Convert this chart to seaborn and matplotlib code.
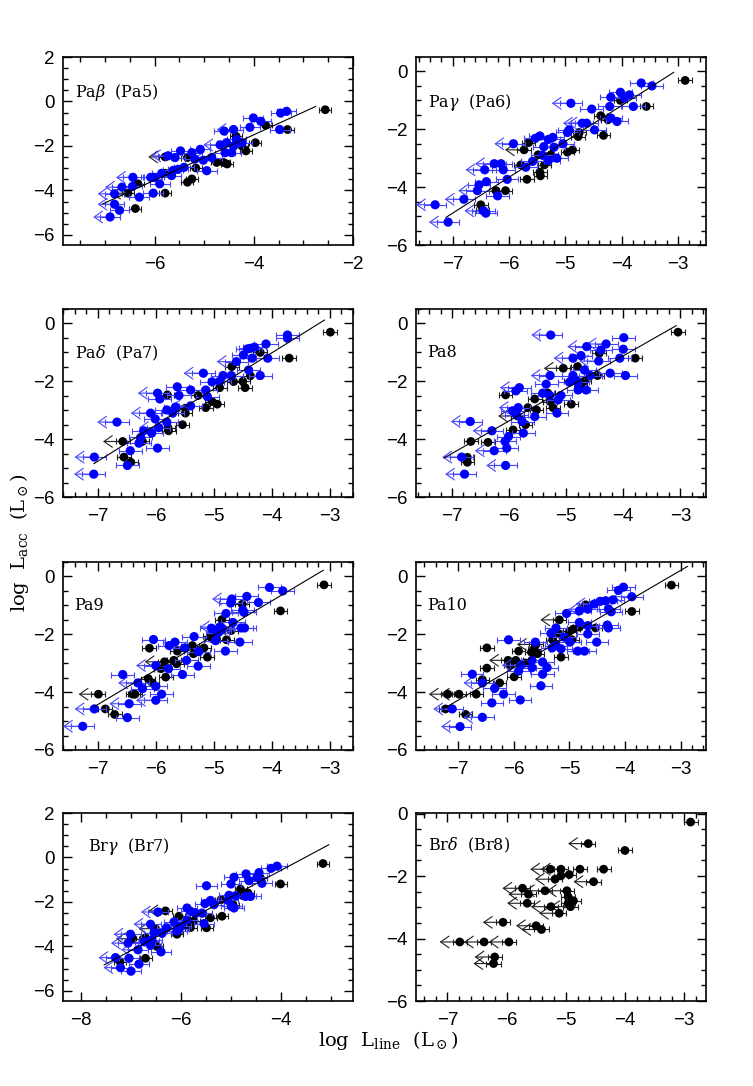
import pandas as pd
import matplotlib
matplotlib.use('Agg')
import matplotlib.pyplot as plt
from matplotlib.ticker import MultipleLocator
import seaborn as sns

# --- data: (log L_line, log L_acc) pairs ---
# det = detection with error bar, lim = upper limit on L_line
# _k = black sample, _b = blue sample

pab_det_k = [(-2.56, -0.37), (-3.32, -1.26), (-3.76, -1.07), (-3.97, -1.85), (-4.16, -2.22), (-4.36, -1.56),
             (-4.54, -2.81), (-4.61, -2.74), (-4.75, -2.74), (-5.17, -2.99), (-5.25, -3.48), (-5.34, -3.63),
             (-5.34, -2.52), (-5.79, -4.12), (-6.39, -4.81), (-6.34, -3.70), (-4.24, -2.00), (-5.78, -3.23)]
pab_lim_k = [(-6.54, -4.12), (-5.79, -2.49)]
pab_det_b = [(-3.34, -0.44), (-3.46, -0.52), (-3.48, -1.26), (-4.01, -0.74), (-3.86, -0.89), (-4.08, -1.16),
             (-4.60, -1.33), (-4.55, -1.85), (-4.41, -2.00), (-4.24, -1.85), (-4.35, -1.70), (-4.58, -2.30),
             (-4.45, -2.30), (-5.08, -2.15), (-5.48, -2.22), (-5.25, -2.30), (-5.19, -2.59), (-5.02, -2.64),
             (-5.59, -2.52), (-5.41, -2.96), (-5.53, -3.05), (-5.63, -3.10), (-5.66, -3.33), (-4.95, -3.11),
             (-5.86, -3.23), (-6.01, -3.41), (-6.08, -3.41), (-6.45, -3.82), (-6.03, -4.12), (-6.31, -4.30),
             (-6.71, -4.89), (-5.90, -3.70)]
pab_lim_b = [(-4.41, -1.26), (-4.85, -2.52), (-5.73, -2.44), (-6.44, -3.41), (-6.66, -3.85), (-6.81, -4.15),
             (-6.81, -4.62), (-6.90, -5.19), (-4.68, -1.95)]

pag_det_k = [(-2.87, -0.31), (-3.56, -1.21), (-4.02, -1.00), (-4.24, -1.67), (-4.32, -2.21), (-4.37, -1.53),
             (-4.75, -2.11), (-4.77, -2.25), (-4.87, -2.71), (-4.96, -2.79), (-5.25, -2.88), (-5.37, -3.23),
             (-5.45, -3.48), (-5.44, -3.61), (-5.68, -3.73), (-5.48, -2.88), (-5.65, -2.46), (-5.79, -3.23),
             (-6.06, -4.12), (-6.23, -4.12), (-6.50, -4.61), (-6.47, -4.79)]
pag_lim_k = [(-5.73, -2.71)]
pag_det_b = [(-3.65, -0.40), (-3.46, -0.50), (-4.02, -0.72), (-3.86, -0.81), (-4.19, -0.89), (-3.95, -0.92),
             (-4.53, -1.30), (-4.21, -1.21), (-3.79, -1.21), (-4.19, -1.61), (-4.08, -1.73), (-4.93, -2.02),
             (-4.96, -2.11), (-4.48, -2.02), (-5.53, -2.31), (-5.45, -2.23), (-5.30, -2.35), (-5.22, -2.28),
             (-5.38, -2.60), (-5.20, -2.62), (-5.04, -2.50), (-5.40, -2.90), (-5.30, -3.08), (-5.15, -3.00),
             (-5.58, -3.11), (-5.70, -3.31), (-6.14, -3.19), (-6.10, -3.40), (-6.03, -3.73), (-6.40, -3.81),
             (-6.53, -3.92), (-6.20, -4.30), (-6.41, -4.90)]
pag_lim_b = [(-4.90, -1.10), (-4.70, -1.79), (-4.62, -1.79), (-5.92, -2.50), (-6.26, -3.19), (-6.43, -3.40),
             (-6.56, -4.12), (-6.80, -4.42), (-7.31, -4.61), (-7.08, -5.21), (-6.45, -4.82)]

pad_det_k = [(-2.99, -0.30), (-3.70, -1.20), (-4.20, -1.00), (-4.69, -1.49), (-4.50, -2.00), (-4.46, -2.22),
             (-4.66, -2.01), (-4.37, -1.81), (-4.90, -2.22), (-4.94, -2.79), (-5.14, -2.91), (-5.03, -2.70),
             (-5.27, -2.49), (-5.49, -2.93), (-5.49, -3.10), (-5.54, -3.50), (-5.79, -3.60), (-5.78, -3.71),
             (-5.80, -2.47), (-6.23, -4.08), (-6.55, -4.62), (-6.43, -4.80)]
pad_lim_k = [(-6.57, -4.08)]
pad_det_b = [(-3.73, -0.40), (-3.73, -0.51), (-4.10, -0.71), (-4.30, -0.82), (-4.42, -0.88), (-4.37, -0.86),
             (-4.34, -1.20), (-4.07, -1.20), (-4.49, -1.09), (-4.40, -1.61), (-4.84, -1.80), (-4.70, -1.80),
             (-4.20, -1.80), (-4.90, -2.00), (-5.03, -2.02), (-5.14, -2.30), (-5.63, -2.19), (-5.40, -2.30),
             (-5.60, -2.49), (-5.11, -2.53), (-5.93, -2.61), (-5.66, -2.89), (-5.81, -2.99), (-5.71, -3.10),
             (-6.01, -3.30), (-5.81, -3.41), (-6.21, -3.71), (-6.07, -3.79), (-6.26, -3.94), (-6.29, -4.14),
             (-5.97, -4.31), (-6.44, -4.40), (-6.49, -4.91)]
pad_lim_b = [(-4.61, -1.32), (-5.18, -1.72), (-5.97, -2.41), (-6.09, -3.10), (-6.67, -3.41), (-7.06, -4.62),
             (-7.07, -5.21), (-5.40, -2.85), (-5.95, -3.60)]

pa8_det_k = [(-3.04, -0.30), (-3.79, -1.20), (-4.42, -1.03), (-4.45, -1.80), (-4.80, -1.49), (-4.68, -1.99),
             (-4.80, -2.00), (-4.92, -2.00), (-4.75, -2.15), (-4.91, -2.79), (-5.23, -2.91), (-5.28, -2.70),
             (-5.32, -2.41), (-5.52, -2.99), (-5.55, -2.61), (-5.67, -2.91), (-5.71, -3.50), (-5.93, -3.68),
             (-6.06, -2.47), (-6.37, -4.11), (-6.67, -4.08), (-6.73, -4.63), (-6.73, -4.80)]
pa8_lim_k = [(-5.05, -1.55), (-5.85, -3.20)]
pa8_det_b = [(-3.99, -0.49), (-4.00, -0.89), (-4.39, -0.92), (-4.74, -1.11), (-4.06, -1.20), (-4.68, -1.61),
             (-4.58, -1.80), (-4.23, -1.72), (-3.96, -1.80), (-4.88, -1.80), (-4.94, -2.03), (-4.80, -2.03),
             (-4.65, -2.30), (-4.79, -2.30), (-5.35, -2.10), (-5.88, -2.33), (-5.41, -2.41), (-5.09, -2.49),
             (-5.29, -2.49), (-5.14, -2.64), (-5.94, -3.02), (-5.87, -3.16), (-5.16, -3.10), (-5.55, -3.22),
             (-5.77, -3.39), (-5.75, -3.79), (-6.01, -3.91), (-6.07, -4.08), (-6.04, -4.31)]
pa8_lim_b = [(-5.27, -0.40), (-4.30, -0.71), (-4.64, -0.80), (-4.88, -1.20), (-4.43, -1.30), (-5.28, -1.80),
             (-5.82, -2.22), (-5.84, -2.91), (-6.68, -3.39), (-6.30, -3.71), (-6.26, -4.40), (-6.83, -4.62),
             (-6.06, -4.91), (-6.78, -5.21)]

pa9_det_k = [(-3.10, -0.29), (-3.85, -1.19), (-4.51, -0.96), (-4.86, -1.49), (-4.78, -2.19), (-4.70, -1.87),
             (-4.93, -1.93), (-5.06, -2.05), (-5.03, -2.15), (-5.17, -2.47), (-5.11, -2.79), (-5.37, -2.39),
             (-5.35, -2.67), (-5.63, -2.58), (-5.69, -2.90), (-5.64, -3.02), (-5.91, -3.19), (-5.83, -3.48),
             (-6.13, -3.53), (-6.06, -3.68), (-6.11, -2.48), (-6.40, -4.07), (-6.36, -4.07), (-6.87, -4.58),
             (-6.71, -4.77)]
pa9_lim_k = [(-6.99, -4.07), (-5.85, -2.95)]
pa9_det_b = [(-4.04, -0.38), (-3.81, -0.50), (-4.43, -0.69), (-4.23, -0.90), (-4.50, -1.16), (-4.48, -1.24),
             (-4.71, -0.92), (-4.79, -1.28), (-4.67, -1.59), (-4.85, -1.80), (-4.90, -1.90), (-4.94, -1.97),
             (-4.53, -1.78), (-4.47, -1.78), (-5.04, -1.79), (-4.55, -2.27), (-4.97, -2.22), (-4.80, -2.58),
             (-5.34, -2.08), (-5.67, -2.27), (-6.04, -2.18), (-5.77, -2.39), (-5.50, -2.47), (-5.26, -2.60),
             (-5.47, -2.90), (-5.27, -3.10), (-5.78, -3.19), (-5.54, -3.39), (-6.57, -3.39), (-6.00, -3.80),
             (-6.23, -3.88), (-5.90, -4.07), (-6.49, -4.88)]
pa9_lim_b = [(-4.69, -0.78), (-6.00, -3.08), (-6.31, -3.68), (-6.00, -4.28), (-6.46, -4.40), (-7.06, -4.58),
             (-7.26, -5.18), (-4.90, -1.75)]

pa10_det_k = [(-3.17, -0.30), (-3.88, -1.21), (-4.71, -0.98), (-4.53, -1.78), (-4.93, -1.82), (-4.95, -2.19),
              (-5.00, -1.90), (-5.18, -1.99), (-5.30, -2.19), (-5.15, -2.79), (-5.63, -2.50), (-5.57, -2.67),
              (-5.68, -2.62), (-5.91, -2.58), (-5.96, -2.90), (-5.79, -2.99), (-6.06, -3.07), (-5.99, -3.47),
              (-6.25, -3.68), (-6.48, -2.47), (-6.48, -3.17), (-6.56, -3.57), (-6.67, -4.07), (-7.22, -4.58),
              (-6.86, -4.77), (-4.82, -1.75)]
pa10_lim_k = [(-5.18, -1.50), (-7.18, -4.07), (-6.98, -4.07), (-6.10, -2.90), (-5.60, -2.35)]
pa10_det_b = [(-4.03, -0.37), (-4.12, -0.48), (-4.22, -0.81), (-4.45, -0.86), (-4.35, -0.84), (-4.82, -1.19),
              (-4.30, -1.12), (-4.25, -1.22), (-5.05, -1.28), (-4.82, -1.59), (-4.67, -1.70), (-4.32, -1.68),
              (-4.30, -1.78), (-4.67, -1.99), (-5.24, -1.78), (-5.33, -1.97), (-5.09, -2.10), (-4.99, -2.27),
              (-5.24, -2.39), (-5.15, -2.50), (-5.31, -2.47), (-4.85, -2.58), (-4.73, -2.58), (-4.51, -2.27),
              (-6.09, -2.19), (-5.61, -2.27), (-5.67, -2.90), (-5.48, -2.96), (-5.40, -3.15), (-5.67, -3.15),
              (-5.91, -3.27), (-5.48, -3.38), (-6.74, -3.38), (-6.34, -3.87), (-6.18, -4.07), (-5.51, -3.78),
              (-5.88, -4.27), (-6.39, -4.37)]
pa10_lim_b = [(-3.88, -0.70), (-4.67, -1.13), (-5.87, -3.07), (-6.56, -3.68), (-7.10, -4.58), (-6.56, -4.87),
              (-6.96, -5.19), (-4.55, -0.95)]

brg_det_k = [(-3.15, -0.27), (-4.00, -1.19), (-4.40, -0.93), (-4.80, -1.42), (-4.65, -1.60), (-4.75, -1.72),
             (-4.95, -2.12), (-5.19, -1.90), (-5.17, -2.64), (-5.40, -2.71), (-5.48, -3.16), (-5.70, -2.52),
             (-5.73, -2.86), (-6.03, -2.64), (-6.07, -3.45), (-5.97, -3.08), (-6.47, -4.00), (-6.70, -3.60),
             (-6.70, -4.53), (-7.21, -4.68)]
brg_lim_k = [(-6.30, -2.40), (-6.50, -3.20), (-6.95, -3.65), (-5.80, -3.15)]
brg_det_b = [(-4.07, -0.39), (-4.19, -0.49), (-4.43, -0.68), (-4.37, -1.16), (-4.69, -0.74), (-4.63, -1.04),
             (-4.47, -0.89), (-4.99, -1.19), (-4.93, -0.89), (-5.48, -1.27), (-5.03, -1.70), (-4.90, -1.72),
             (-4.70, -1.75), (-4.60, -1.75), (-4.98, -2.20), (-4.93, -2.27), (-5.05, -1.93), (-5.33, -2.12),
             (-5.51, -2.07), (-5.40, -1.93), (-5.87, -2.27), (-5.80, -2.42), (-5.70, -2.50), (-5.57, -2.50),
             (-5.87, -2.82), (-6.00, -3.08), (-6.03, -3.22), (-6.07, -3.30), (-6.13, -2.90), (-5.53, -2.97),
             (-6.28, -3.16), (-6.37, -3.41), (-6.53, -3.38), (-6.63, -3.76), (-6.60, -3.95), (-6.57, -3.70),
             (-6.39, -4.24), (-6.72, -3.79), (-7.03, -4.53), (-6.83, -4.79), (-6.99, -5.11)]
brg_lim_b = [(-6.45, -2.45), (-6.60, -3.00), (-7.00, -3.45), (-7.05, -3.85), (-7.30, -4.50), (-7.20, -4.95),
             (-6.85, -4.15)]

brd_det_k = [(-2.89, -0.27), (-4.00, -1.18), (-4.36, -1.78), (-4.76, -1.78), (-5.08, -1.99), (-4.94, -1.95),
             (-4.96, -2.66), (-4.87, -2.79), (-4.96, -2.87)]
brd_lim_k = [(-4.62, -0.96), (-5.08, -1.78), (-5.26, -1.78), (-5.18, -2.10), (-4.53, -2.18), (-5.73, -2.39),
             (-5.63, -2.58), (-5.35, -2.47), (-4.98, -2.47), (-5.65, -2.87), (-5.25, -2.98), (-4.92, -2.98),
             (-5.11, -3.19), (-6.06, -3.48), (-5.50, -3.59), (-5.41, -3.71), (-6.79, -4.11), (-6.38, -4.11),
             (-5.96, -4.11), (-6.20, -4.59), (-6.22, -4.80)]
brd_det_b = []
brd_lim_b = []

# panel names and labels
lines = ['pab', 'pag', 'pad', 'pa8', 'pa9', 'pa10', 'brg', 'brd']
labels = [r'Pa$\beta$  (Pa5)', r'Pa$\gamma$  (Pa6)', r'Pa$\delta$  (Pa7)', 'Pa8',
          'Pa9', 'Pa10', r'Br$\gamma$  (Br7)', r'Br$\delta$  (Br8)']
# linear fits log Lacc = a * log Lline + b drawn between x0 and x1
fit_a = [1.02, 1.24, 1.249, 1.125, 1.194, 1.125, 1.202, None]
fit_b = [2.585, 3.78, 3.98, 3.38, 3.93, 3.59, 4.22, None]
fit_x0 = [-7.05, -7.12, -7.07, -7.14, -7.07, -7.27, -7.53, None]
fit_x1 = [-2.75, -3.07, -3.09, -3.07, -3.11, -2.88, -3.03, None]

groups = {
    'pab': (pab_det_k, pab_lim_k, pab_det_b, pab_lim_b),
    'pag': (pag_det_k, pag_lim_k, pag_det_b, pag_lim_b),
    'pad': (pad_det_k, pad_lim_k, pad_det_b, pad_lim_b),
    'pa8': (pa8_det_k, pa8_lim_k, pa8_det_b, pa8_lim_b),
    'pa9': (pa9_det_k, pa9_lim_k, pa9_det_b, pa9_lim_b),
    'pa10': (pa10_det_k, pa10_lim_k, pa10_det_b, pa10_lim_b),
    'brg': (brg_det_k, brg_lim_k, brg_det_b, brg_lim_b),
    'brd': (brd_det_k, brd_lim_k, brd_det_b, brd_lim_b),
}

rows = []
for name, (dk, lk, db, lb) in groups.items():
    for pts, col, lim in [(dk, 'k', 0), (lk, 'k', 1), (db, 'b', 0), (lb, 'b', 1)]:
        for x, y in pts:
            rows.append({'line': name, 'x': x, 'y': y, 'sample': col, 'lim': lim})
df = pd.DataFrame(rows)

# --- figure layout ---
sns.set_style('ticks')
plt.rcParams['font.family'] = ['Liberation Sans', 'DejaVu Sans']
plt.rcParams['mathtext.fontset'] = 'dejavuserif'
plt.rcParams.update({'axes.edgecolor': 'black', 'xtick.color': 'black', 'ytick.color': 'black',
                     'text.color': 'black', 'axes.labelcolor': 'black'})

fig = plt.figure(figsize=(7.53, 10.86), dpi=100)
W, H = 290 / 753, 188 / 1086
lefts = [63 / 753, 416 / 753]
bottoms = [1 - 245 / 1086, 1 - 497 / 1086, 1 - 750 / 1086, 1 - 1001 / 1086]

xlims = [(-7.85, -2.0), (-7.65, -2.5), (-7.6, -2.6), (-7.63, -2.55),
         (-7.6, -2.6), (-7.75, -2.55), (-8.35, -2.55), (-7.53, -2.63)]
ylims = [(-6.45, 2.0), (-6.0, 0.5), (-6.0, 0.5), (-6.0, 0.5),
         (-6.0, 0.5), (-6.0, 0.5), (-6.45, 2.0), (-6.0, 0.02)]
xmajor = [2, 1, 1, 1, 1, 1, 2, 1]
xminor = [0.5, 0.2, 0.2, 0.2, 0.2, 0.2, 0.5, 0.2]
label_xy = [(0.04, 0.81), (0.04, 0.76), (0.04, 0.766), (0.04, 0.766),
            (0.04, 0.77), (0.04, 0.77), (0.086, 0.82), (0.04, 0.83)]

palette = {'k': 'black', 'b': '#0000ff'}
barcol = {'k': '#202020', 'b': '#4646ff'}
errw = {'k': 0.12, 'b': 0.2}
arrow_len = 0.34

for i, name in enumerate(lines):
    r, c = divmod(i, 2)
    ax = fig.add_axes([lefts[c], bottoms[r], W, H])
    d = df[df['line'] == name]

    for col in ['k', 'b']:
        sub = d[d['sample'] == col]
        if len(sub) == 0:
            continue
        ax.errorbar(sub['x'], sub['y'], xerr=errw[col], fmt='none', ecolor=barcol[col],
                    elinewidth=0.8, capsize=2.5, capthick=0.8, zorder=2 if col == 'k' else 4)
        for _, p in sub[sub['lim'] == 1].iterrows():
            ax.annotate('', xy=(p['x'] - arrow_len, p['y']), xytext=(p['x'], p['y']),
                        arrowprops=dict(arrowstyle='->,head_length=0.5,head_width=0.35',
                                        color=barcol[col], lw=0.8, shrinkA=0, shrinkB=0,
                                        mutation_scale=12),
                        zorder=2 if col == 'k' else 4)

    sns.scatterplot(data=d[d['sample'] == 'k'], x='x', y='y', color='black', s=40,
                    edgecolor='none', legend=False, ax=ax, zorder=3)
    if (d['sample'] == 'b').any():
        sns.scatterplot(data=d[d['sample'] == 'b'], x='x', y='y', color=palette['b'], s=44,
                        edgecolor='none', legend=False, ax=ax, zorder=5)

    if fit_a[i] is not None:
        fx = [fit_x0[i], fit_x1[i]]
        fy = [fit_a[i] * v + fit_b[i] for v in fx]
        ax.plot(fx, fy, color='black', lw=0.8, zorder=6)

    ax.set_xlim(xlims[i])
    ax.set_ylim(ylims[i])
    ax.xaxis.set_major_locator(MultipleLocator(xmajor[i]))
    ax.xaxis.set_minor_locator(MultipleLocator(xminor[i]))
    ax.yaxis.set_major_locator(MultipleLocator(2))
    ax.yaxis.set_minor_locator(MultipleLocator(0.5))
    ax.tick_params(which='both', direction='in', top=True, right=True, width=1.0)
    ax.tick_params(which='major', length=6.5, labelsize=13.5)
    ax.tick_params(which='minor', length=3.5)
    ax.tick_params(axis='x', which='major', pad=8)
    ax.tick_params(axis='y', which='major', pad=6)
    for s in ax.spines.values():
        s.set_linewidth(1.2)
    ax.set_xlabel('')
    ax.set_ylabel('')
    ax.text(label_xy[i][0], label_xy[i][1], labels[i], transform=ax.transAxes,
            family='DejaVu Serif', fontsize=11.5, va='center', ha='left')

fig.text(0.026, 0.50, r'log  L$_{\rm acc}$  (L$_\odot$)', rotation=90, family='DejaVu Serif',
         fontsize=14, ha='center', va='center')
fig.text(0.515, 0.042, r'log  L$_{\rm line}$  (L$_\odot$)', family='DejaVu Serif',
         fontsize=14, ha='center', va='center')

fig.savefig('out.png', dpi=100)
